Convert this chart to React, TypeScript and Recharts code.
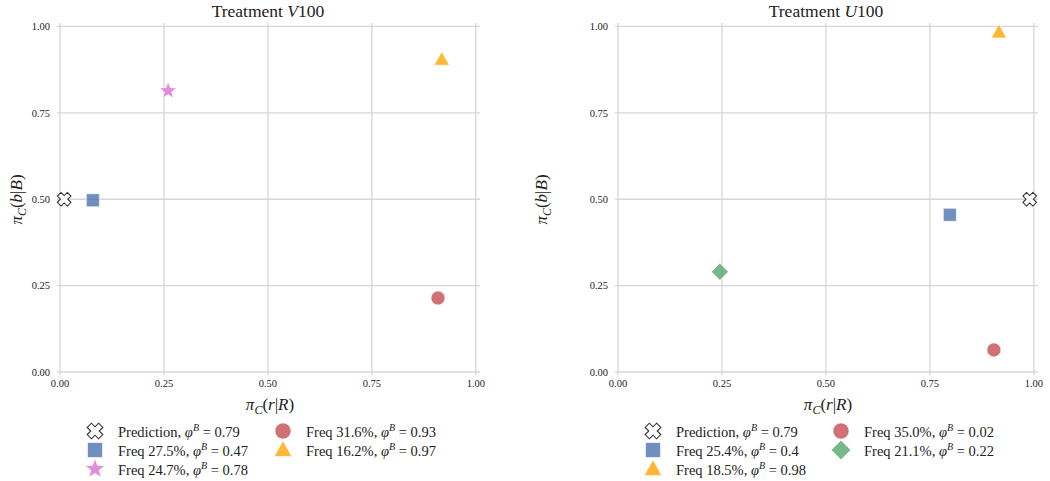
import React from 'react';
import { ScatterChart, Scatter, XAxis, YAxis, ReferenceLine } from 'recharts';

const TICKS = [0, 0.25, 0.5, 0.75, 1];

// Treatment V100
const v100Prediction = [{ x: 0.01, y: 0.5 }];
const v100Square = [{ x: 0.079, y: 0.497 }];
const v100Star = [{ x: 0.26, y: 0.814 }];
const v100Circle = [{ x: 0.909, y: 0.214 }];
const v100Triangle = [{ x: 0.918, y: 0.904 }];
const v100Labels = ['Prediction,', 'Freq 27.5%,', 'Freq 24.7%,', 'Freq 31.6%,', 'Freq 16.2%,'];
const v100Phi = ['0.79', '0.47', '0.78', '0.93', '0.97'];

// Treatment U100
const u100Prediction = [{ x: 0.99, y: 0.5 }];
const u100Square = [{ x: 0.798, y: 0.455 }];
const u100Triangle = [{ x: 0.916, y: 0.983 }];
const u100Circle = [{ x: 0.904, y: 0.064 }];
const u100Diamond = [{ x: 0.245, y: 0.29 }];
const u100Labels = ['Prediction,', 'Freq 25.4%,', 'Freq 18.5%,', 'Freq 35.0%,', 'Freq 21.1%,'];
const u100Phi = ['0.79', '0.4', '0.98', '0.02', '0.22'];

const FONT = '"Liberation Serif", "DejaVu Serif", serif';
const GRID = '#d6d6d6';

const COLORS: Record<string, string> = {
  square: '#4c72b0',
  star: '#da70d6',
  circle: '#c44e52',
  triangle: '#ffa500',
  diamond: '#55a868',
};

type Kind = 'x' | 'square' | 'star' | 'circle' | 'triangle' | 'diamond';

const marker = (kind: Kind, cx: number, cy: number, s = 1) => {
  const common = { fillOpacity: 0.8, stroke: '#ffffff', strokeOpacity: 0.6, strokeWidth: 1 };
  if (kind === 'x') {
    const a = 7 * s, b = 2.6 * s;
    const pts = [[-b, -a], [b, -a], [b, -b], [a, -b], [a, b], [b, b], [b, a], [-b, a], [-b, b], [-a, b], [-a, -b], [-b, -b]]
      .map(([px, py]) => `${px},${py}`).join(' ');
    return (
      <polygon points={pts} transform={`translate(${cx},${cy}) rotate(45)`} fill="#fff" stroke="#333" strokeWidth={1.1} />
    );
  }
  if (kind === 'square') {
    const h = 6.5 * s;
    return <rect x={cx - h} y={cy - h} width={2 * h} height={2 * h} fill={COLORS.square} {...common} />;
  }
  if (kind === 'circle') {
    return <circle cx={cx} cy={cy} r={7 * s} fill={COLORS.circle} {...common} />;
  }
  if (kind === 'triangle') {
    const r = 8 * s;
    const pts = `${cx},${cy - r} ${cx + r * 0.95},${cy + r * 0.7} ${cx - r * 0.95},${cy + r * 0.7}`;
    return <polygon points={pts} fill={COLORS.triangle} {...common} />;
  }
  if (kind === 'diamond') {
    const r = 8.5 * s;
    const pts = `${cx},${cy - r} ${cx + r},${cy} ${cx},${cy + r} ${cx - r},${cy}`;
    return <polygon points={pts} fill={COLORS.diamond} {...common} />;
  }
  // star
  const outer = 9 * s, inner = 3.8 * s;
  const pts: string[] = [];
  for (let i = 0; i < 10; i++) {
    const r = i % 2 === 0 ? outer : inner;
    const ang = -Math.PI / 2 + (i * Math.PI) / 5;
    pts.push(`${cx + r * Math.cos(ang)},${cy + r * Math.sin(ang)}`);
  }
  return <polygon points={pts.join(' ')} fill={COLORS.star} {...common} />;
};

const shapeOf = (kind: Kind) => (props: any) => marker(kind, props.cx, props.cy);

const XLabel = ({ viewBox }: any) => {
  const { x, y, width } = viewBox;
  return (
    <text x={x + width / 2} y={y + 38} textAnchor="middle" fontFamily={FONT} fontSize={17} fill="#222">
      <tspan fontStyle="italic">π</tspan>
      <tspan fontStyle="italic" fontSize={12} dy={4}>C</tspan>
      <tspan dy={-4}>(</tspan>
      <tspan fontStyle="italic">r</tspan>|<tspan fontStyle="italic">R</tspan>)
    </text>
  );
};

const YLabel = ({ viewBox }: any) => {
  const { y, height } = viewBox;
  const cx = 22, cy = y + height / 2 + 2;
  return (
    <text x={cx} y={cy} textAnchor="middle" transform={`rotate(-90, ${cx}, ${cy})`} fontFamily={FONT} fontSize={17} fill="#222">
      <tspan fontStyle="italic">π</tspan>
      <tspan fontStyle="italic" fontSize={12} dy={4}>C</tspan>
      <tspan dy={-4}>(</tspan>
      <tspan fontStyle="italic">b</tspan>|<tspan fontStyle="italic">B</tspan>)
    </text>
  );
};

interface Series { kind: Kind; data: { x: number; y: number }[] }

interface PanelProps {
  left: number;
  title: string;
  margin: { top: number; right: number; bottom: number; left: number };
  series: Series[];
  labels: string[];
  phi: string[];
  legendX: number;
  titleX: number;
}

const Panel: React.FC<PanelProps> = ({ left, title, margin, series, labels, phi, legendX, titleX }) => {
  const rows = [431, 450, 469];
  return (
    <div style={{ position: 'absolute', left, top: 0, width: 525, height: 481 }}>
      <div style={{ position: 'absolute', left: titleX - 100, width: 200, top: 1, textAlign: 'center', fontFamily: FONT, fontSize: 17.5, color: '#222' }}>
        Treatment <i>{title[0]}</i>{title.slice(1)}
      </div>
      <ScatterChart width={525} height={481} margin={margin}>
        <XAxis
          type="number"
          dataKey="x"
          domain={[0, 1.01]}
          ticks={TICKS}
          tickFormatter={(v: number) => v.toFixed(2)}
          axisLine={false}
          tickLine={{ stroke: GRID, strokeWidth: 1.3 }}
          tickSize={3}
          tickMargin={5}
          height={30}
          tick={{ fontFamily: FONT, fontSize: 10.5, fill: '#222' }}
          label={<XLabel />}
        />
        <YAxis
          type="number"
          dataKey="y"
          domain={[0, 1.01]}
          ticks={TICKS}
          tickFormatter={(v: number) => v.toFixed(2)}
          axisLine={false}
          tickLine={{ stroke: GRID, strokeWidth: 1.3 }}
          tickSize={3}
          tickMargin={7}
          width={40}
          tick={{ fontFamily: FONT, fontSize: 10.5, fill: '#222' }}
          label={<YLabel />}
        />
        {TICKS.map((t) => (
          <ReferenceLine key={`gx-${t}`} x={t} stroke={GRID} strokeWidth={1.3} />
        ))}
        {TICKS.map((t) => (
          <ReferenceLine key={`gy-${t}`} y={t} stroke={GRID} strokeWidth={1.3} />
        ))}
        {series.map((s, i) => (
          <Scatter key={i} data={s.data} shape={shapeOf(s.kind)} isAnimationActive={false} />
        ))}
      </ScatterChart>
      {series.map((s, i) => {
        const col = i < 3 ? 0 : 1;
        const row = i < 3 ? i : i - 3;
        const mx = legendX + col * 188;
        const cy = rows[row];
        return (
          <div key={`lg-${i}`} style={{ position: 'absolute', left: mx - 12, top: cy - 12, height: 24, display: 'flex', alignItems: 'center', whiteSpace: 'nowrap' }}>
            <svg width={24} height={24}>{marker(s.kind, 12, 12, 1.15)}</svg>
            <span style={{ marginLeft: 11, fontFamily: FONT, fontSize: 14.5, color: '#222' }}>
              {labels[i]} <i>φ</i><sup style={{ fontSize: 10 }}><i>B</i></sup> = {phi[i]}
            </span>
          </div>
        );
      })}
    </div>
  );
};

export default function App() {
  return (
    <div style={{ position: 'absolute', left: 0, top: 0, width: 1050, height: 481, background: '#fff', overflow: 'hidden' }}>
      <Panel
        left={0}
        title="V100"
        margin={{ top: 23, right: 45, bottom: 79, left: 20 }}
        series={[
          { kind: 'x', data: v100Prediction },
          { kind: 'square', data: v100Square },
          { kind: 'star', data: v100Star },
          { kind: 'circle', data: v100Circle },
          { kind: 'triangle', data: v100Triangle },
        ]}
        labels={v100Labels}
        phi={v100Phi}
        legendX={95}
        titleX={268}
      />
      <Panel
        left={525}
        title="U100"
        margin={{ top: 23, right: 12, bottom: 79, left: 53 }}
        series={[
          { kind: 'x', data: u100Prediction },
          { kind: 'square', data: u100Square },
          { kind: 'triangle', data: u100Triangle },
          { kind: 'circle', data: u100Circle },
          { kind: 'diamond', data: u100Diamond },
        ]}
        labels={u100Labels}
        phi={u100Phi}
        legendX={128}
        titleX={301}
      />
    </div>
  );
}
